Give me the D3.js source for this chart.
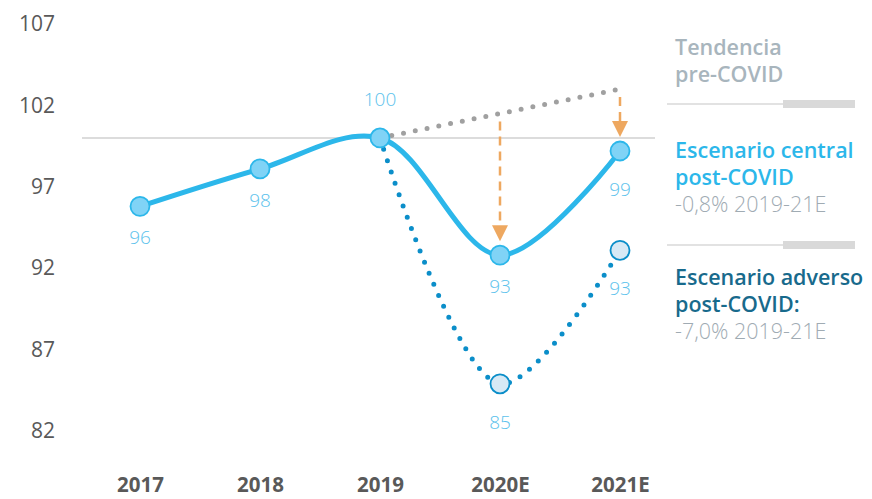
<!DOCTYPE html>
<html>
<head>
<meta charset="utf-8">
<script src="https://cdn.jsdelivr.net/npm/d3@7"></script>
<style>
  body { margin: 0; background: #fff; }
  svg text { font-family: "Open Sans", "Noto Sans", sans-serif; }
</style>
</head>
<body>
<div id="chart"></div>
<script>
// Chart data
const years = ["2017", "2018", "2019", "2020E", "2021E"];
const yTicks = [82, 87, 92, 97, 102, 107];
const central = [95.8, 98.1, 100, 92.8, 99.2];
const centralLabels = ["96", "98", "100", "93", "99"];
const adverse = [null, null, 100, 84.9, 93.1];
const adverseLabels = [null, null, null, "85", "93"];
const trend = [null, null, 100, 101.5, 103.0];

const width = 872;
const height = 499;

const svg = d3.select("#chart")
    .append("svg")
    .attr("width", width)
    .attr("height", height);

const x = d3.scalePoint()
    .domain(years)
    .range([140, 620]);

const y = d3.scaleLinear()
    .domain([82, 107])
    .range([431, 24]);

// Y axis labels (no line)
const yAxis = svg.append("g")
    .attr("transform", "translate(55,0)")
    .call(d3.axisLeft(y).tickValues(yTicks).tickSize(0).tickPadding(0));
yAxis.select(".domain").remove();
yAxis.selectAll("text")
    .attr("fill", "#595959")
    .style("font-size", "21px");

// X axis labels
const xAxis = svg.append("g")
    .attr("transform", "translate(0,485)")
    .call(d3.axisBottom(x).tickSize(0).tickPadding(0));
xAxis.select(".domain").remove();
xAxis.selectAll("text")
    .attr("fill", "#595959")
    .attr("dy", "0.35em")
    .style("font-size", "20.5px")
    .style("font-weight", "bold");

// Reference line at 100
svg.append("line")
    .attr("x1", 82).attr("x2", 655)
    .attr("y1", y(100)).attr("y2", y(100))
    .attr("stroke", "#d0d0d0")
    .attr("stroke-width", 1.5);

// Trend line (grey dotted)
const trendPts = years.map((d, i) => [d, trend[i]]).filter(d => d[1] !== null);
svg.append("path")
    .datum(trendPts)
    .attr("fill", "none")
    .attr("stroke", "#a0a0a0")
    .attr("stroke-width", 5)
    .attr("stroke-linecap", "round")
    .attr("stroke-dasharray", "0,12")
    .attr("d", d3.line().x(d => x(d[0])).y(d => y(d[1])));

// Orange arrows from trend to central
const arrowYears = ["2020E", "2021E"];
arrowYears.forEach(yr => {
    const i = years.indexOf(yr);
    const top = y(trend[i]) + 8;
    const bottom = y(central[i]) - 14;
    svg.append("line")
        .attr("x1", x(yr)).attr("x2", x(yr))
        .attr("y1", top).attr("y2", bottom - 14)
        .attr("stroke", "#eea860")
        .attr("stroke-width", 2.5)
        .attr("stroke-dasharray", "9,6");
    svg.append("path")
        .attr("d", `M${x(yr) - 8},${bottom - 16} L${x(yr) + 8},${bottom - 16} L${x(yr)},${bottom} Z`)
        .attr("fill", "#eea860");
});

// Adverse scenario (dotted blue)
const advPts = years.map((d, i) => [d, adverse[i]]).filter(d => d[1] !== null);
svg.append("path")
    .datum(advPts)
    .attr("fill", "none")
    .attr("stroke", "#0b8ec9")
    .attr("stroke-width", 5)
    .attr("stroke-linecap", "round")
    .attr("stroke-dasharray", "0,12")
    .attr("d", d3.line().curve(d3.curveCatmullRom.alpha(0.5)).x(d => x(d[0])).y(d => y(d[1])));

// Central scenario
const cenPts = years.map((d, i) => [d, central[i]]);
svg.append("path")
    .datum(cenPts)
    .attr("fill", "none")
    .attr("stroke", "#2cb7ea")
    .attr("stroke-width", 5)
    .attr("d", d3.line().curve(d3.curveCatmullRom.alpha(0.5)).x(d => x(d[0])).y(d => y(d[1])));

// Adverse markers
svg.selectAll(".adv-dot")
    .data(advPts.slice(1))
    .enter()
    .append("circle")
    .attr("class", "adv-dot")
    .attr("cx", d => x(d[0]))
    .attr("cy", d => y(d[1]))
    .attr("r", 9.5)
    .attr("fill", "#d7e9f5")
    .attr("stroke", "#0b8ec9")
    .attr("stroke-width", 1.8);

// Central markers
svg.selectAll(".cen-dot")
    .data(cenPts)
    .enter()
    .append("circle")
    .attr("class", "cen-dot")
    .attr("cx", d => x(d[0]))
    .attr("cy", d => y(d[1]))
    .attr("r", 9.5)
    .attr("fill", "#80d3f6")
    .attr("stroke", "#2cb7ea")
    .attr("stroke-width", 1.8);

// Data labels
const labelColor = "#5cc2ec";
const cenOffsets = [38, 38, -32, 38, 45];
centralLabels.forEach((t, i) => {
    svg.append("text")
        .attr("x", x(years[i]))
        .attr("y", y(central[i]) + cenOffsets[i])
        .attr("text-anchor", "middle")
        .attr("fill", labelColor)
        .style("font-size", "19px")
        .style("font-weight", 300)
        .text(t);
});
const advOffsets = [0, 0, 0, 45, 45];
adverseLabels.forEach((t, i) => {
    if (!t) return;
    svg.append("text")
        .attr("x", x(years[i]))
        .attr("y", y(adverse[i]) + advOffsets[i])
        .attr("text-anchor", "middle")
        .attr("fill", labelColor)
        .style("font-size", "19px")
        .style("font-weight", 300)
        .text(t);
});

// Legend on the right
const legend = svg.append("g");
function legendText(lines, yy, color, weight) {
    lines.forEach((t, k) => {
        legend.append("text")
            .attr("x", 675)
            .attr("y", yy + k * 27)
            .attr("fill", color)
            .style("font-size", "21.5px")
            .style("font-weight", weight)
            .text(t);
    });
}
legendText(["Tendencia", "pre-COVID"], 55, "#a8b5bd", 600);
legendText(["Escenario central", "post-COVID"], 158, "#2cb7ea", 600);
legendText(["-0,8% 2019-21E"], 212, "#a0abb3", 300);
legendText(["Escenario adverso", "post-COVID:"], 285, "#186a8c", 600);
legendText(["-7,0% 2019-21E"], 339, "#a0abb3", 300);

[104, 245].forEach(yy => {
    legend.append("line")
        .attr("x1", 667).attr("x2", 855)
        .attr("y1", yy).attr("y2", yy)
        .attr("stroke", "#d9d9d9").attr("stroke-width", 1.5);
    legend.append("line")
        .attr("x1", 783).attr("x2", 855)
        .attr("y1", yy).attr("y2", yy)
        .attr("stroke", "#d9d9d9").attr("stroke-width", 8);
});
</script>
</body>
</html>
